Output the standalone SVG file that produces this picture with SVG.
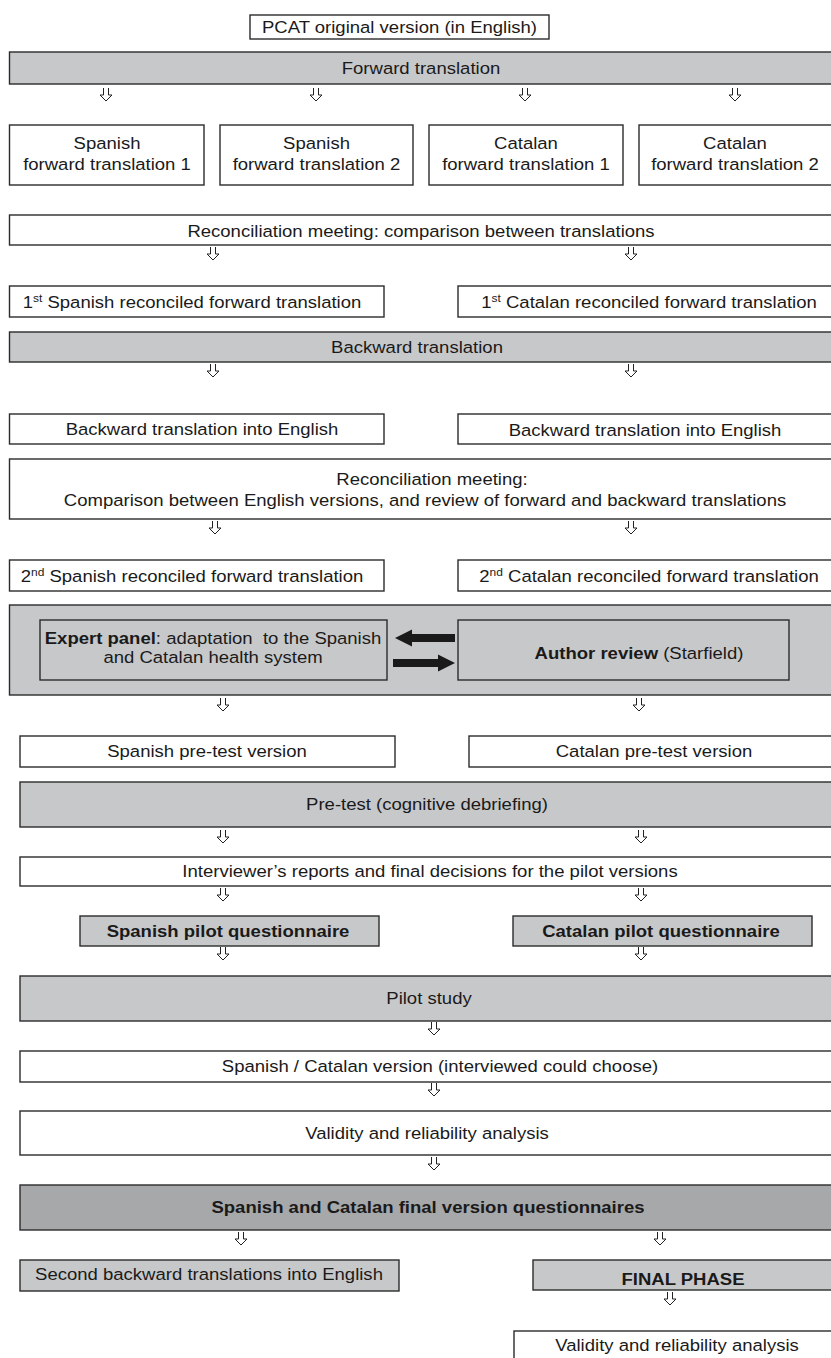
<svg xmlns="http://www.w3.org/2000/svg" xmlns:xlink="http://www.w3.org/1999/xlink" width="831" height="1358" viewBox="0 0 831 1358">
<style>
rect{stroke:#2b2b2b;stroke-width:1.4}
rect.bg{stroke:none;fill:#ffffff}
.w{fill:#ffffff}
.g{fill:#c7c8ca}
.d{fill:#a7a8aa}
text{font-family:"Liberation Sans",Arial,sans-serif;font-size:17px;fill:#1a1a1a;text-anchor:middle}
.b{font-weight:bold}
.sup{font-size:11px}
.hd{fill:#fff;stroke:#222;stroke-width:1}
.blk{fill:#1a1a1a;stroke:none}
</style>
<defs>
<path id="dn" class="hd" d="M-2.5,0 V7 H-6 L0,13 L6,7 H2.5 V0"/>
</defs>
<rect class="bg" x="0" y="0" width="831" height="1358"/>

<g id="n_pcat"><rect class="w" x="250" y="15" width="299" height="24"/><text transform="translate(399.5 33) scale(1.09 1)">PCAT original version (in English)</text></g>
<g id="n_forward"><rect class="g" x="9.5" y="52" width="830" height="32"/><text transform="translate(421 74) scale(1.09 1)">Forward translation</text></g>
<g id="n_sfw1"><rect class="w" x="9.5" y="125" width="194.5" height="60"/><text transform="translate(107 149) scale(1.09 1)">Spanish</text><text transform="translate(107 170) scale(1.09 1)">forward translation 1</text></g>
<g id="n_sfw2"><rect class="w" x="220" y="125" width="193" height="60"/><text transform="translate(316.5 149) scale(1.09 1)">Spanish</text><text transform="translate(316.5 170) scale(1.09 1)">forward translation 2</text></g>
<g id="n_cfw1"><rect class="w" x="429" y="125" width="194" height="60"/><text transform="translate(526 149) scale(1.09 1)">Catalan</text><text transform="translate(526 170) scale(1.09 1)">forward translation 1</text></g>
<g id="n_cfw2"><rect class="w" x="639" y="125" width="200" height="60"/><text transform="translate(735 149) scale(1.09 1)">Catalan</text><text transform="translate(735 170) scale(1.09 1)">forward translation 2</text></g>
<g id="n_recon1"><rect class="w" x="9.5" y="215" width="830" height="30"/><text transform="translate(421 237) scale(1.09 1)">Reconciliation meeting: comparison between translations</text></g>
<g id="n_sp1"><rect class="w" x="9.5" y="286" width="374.5" height="31"/><text transform="translate(192 308) scale(1.09 1)">1<tspan class="sup" dy="-6">st</tspan><tspan dy="6"> Spanish reconciled forward translation</tspan></text></g>
<g id="n_ca1"><rect class="w" x="458" y="286" width="380" height="31"/><text transform="translate(649 308) scale(1.09 1)">1<tspan class="sup" dy="-6">st</tspan><tspan dy="6"> Catalan reconciled forward translation</tspan></text></g>
<g id="n_backward"><rect class="g" x="9.5" y="332" width="830" height="30"/><text transform="translate(417 353) scale(1.09 1)">Backward translation</text></g>
<g id="n_spbk"><rect class="w" x="9.5" y="414" width="374.5" height="30"/><text transform="translate(202 435) scale(1.09 1)">Backward translation into English</text></g>
<g id="n_cabk"><rect class="w" x="458" y="414" width="380" height="30"/><text transform="translate(645 436) scale(1.09 1)">Backward translation into English</text></g>
<g id="n_recon2"><rect class="w" x="9.5" y="459" width="830" height="60"/><text transform="translate(432 485) scale(1.09 1)">Reconciliation meeting:</text><text transform="translate(425 506) scale(1.09 1)">Comparison between English versions, and review of forward and backward translations</text></g>
<g id="n_sp2"><rect class="w" x="9.5" y="560" width="374.5" height="31"/><text transform="translate(192 582) scale(1.09 1)">2<tspan class="sup" dy="-6">nd</tspan><tspan dy="6"> Spanish reconciled forward translation</tspan></text></g>
<g id="n_ca2"><rect class="w" x="458" y="560" width="380" height="31"/><text transform="translate(649 582) scale(1.09 1)">2<tspan class="sup" dy="-6">nd</tspan><tspan dy="6"> Catalan reconciled forward translation</tspan></text></g>
<g id="n_panel"><rect class="g" x="9.5" y="605" width="830" height="90"/></g>
<g id="n_expert"><rect class="g" x="40" y="620" width="347" height="60"/><text transform="translate(213 644) scale(1.09 1)" style="white-space:pre"><tspan class="b">Expert panel</tspan>: adaptation  to the Spanish</text><text transform="translate(213 663) scale(1.09 1)">and Catalan health system</text></g>
<g id="n_author"><rect class="g" x="458" y="620" width="331" height="60"/><text transform="translate(639 659) scale(1.09 1)"><tspan class="b">Author review</tspan> (Starfield)</text></g>
<g id="n_sppre"><rect class="w" x="20" y="736" width="375" height="31"/><text transform="translate(207 757) scale(1.09 1)">Spanish pre-test version</text></g>
<g id="n_capre"><rect class="w" x="469" y="736" width="370" height="31"/><text transform="translate(654 757) scale(1.09 1)">Catalan pre-test version</text></g>
<g id="n_pretest"><rect class="g" x="20" y="782" width="820" height="45"/><text transform="translate(427 810) scale(1.09 1)">Pre-test (cognitive debriefing)</text></g>
<g id="n_interv"><rect class="w" x="20" y="857" width="820" height="29"/><text transform="translate(430 877) scale(1.09 1)">Interviewer’s reports and final decisions for the pilot versions</text></g>
<g id="n_sppilot"><rect class="g" x="80" y="916" width="299" height="30"/><text class="b" transform="translate(228 937) scale(1.09 1)">Spanish pilot questionnaire</text></g>
<g id="n_capilot"><rect class="g" x="513" y="916" width="299" height="30"/><text class="b" transform="translate(661 937) scale(1.09 1)">Catalan pilot questionnaire</text></g>
<g id="n_pilot"><rect class="g" x="20" y="976" width="820" height="45"/><text transform="translate(429 1004) scale(1.09 1)">Pilot study</text></g>
<g id="n_spca"><rect class="w" x="20" y="1051" width="820" height="31"/><text transform="translate(440 1072) scale(1.09 1)">Spanish / Catalan version (interviewed could choose)</text></g>
<g id="n_valid1"><rect class="w" x="20" y="1111" width="820" height="44"/><text transform="translate(427 1139) scale(1.09 1)">Validity and reliability analysis</text></g>
<g id="n_final"><rect class="d" x="20" y="1185" width="820" height="45"/><text class="b" transform="translate(428 1213) scale(1.09 1)">Spanish and Catalan final version questionnaires</text></g>
<g id="n_second"><rect class="g" x="20" y="1260" width="379" height="31"/><text transform="translate(209 1280) scale(1.09 1)">Second backward translations into English</text></g>
<g id="n_finalphase"><rect class="g" x="533" y="1260" width="300" height="30"/><text class="b" transform="translate(683 1285) scale(1.09 1)">FINAL PHASE</text></g>
<g id="n_valid2"><rect class="w" x="514" y="1331" width="330" height="40"/><text transform="translate(677 1351) scale(1.09 1)">Validity and reliability analysis</text></g>

<g id="connectors">
<use xlink:href="#dn" x="106" y="88"/><use xlink:href="#dn" x="316" y="88"/><use xlink:href="#dn" x="525" y="88"/><use xlink:href="#dn" x="735" y="88"/>
<use xlink:href="#dn" x="213" y="247"/><use xlink:href="#dn" x="631" y="247"/>
<use xlink:href="#dn" x="213" y="364"/><use xlink:href="#dn" x="631" y="364"/>
<use xlink:href="#dn" x="215" y="521"/><use xlink:href="#dn" x="631" y="521"/>
<use xlink:href="#dn" x="223" y="698"/><use xlink:href="#dn" x="639" y="698"/>
<use xlink:href="#dn" x="223" y="830"/><use xlink:href="#dn" x="641" y="830"/>
<use xlink:href="#dn" x="223" y="888"/><use xlink:href="#dn" x="641" y="888"/>
<use xlink:href="#dn" x="223" y="947"/><use xlink:href="#dn" x="641" y="947"/>
<use xlink:href="#dn" x="434" y="1022"/>
<use xlink:href="#dn" x="434" y="1083"/>
<use xlink:href="#dn" x="434" y="1157"/>
<use xlink:href="#dn" x="241" y="1232"/><use xlink:href="#dn" x="660" y="1232"/>
<use xlink:href="#dn" x="670" y="1292"/>
<path class="blk" d="M395,638 L412,629.5 V634 H455 V642 H412 V646.5 Z"/>
<path class="blk" d="M455,663 L438,654.5 V659 H393 V667 H438 V671.5 Z"/>
</g>
</svg>
